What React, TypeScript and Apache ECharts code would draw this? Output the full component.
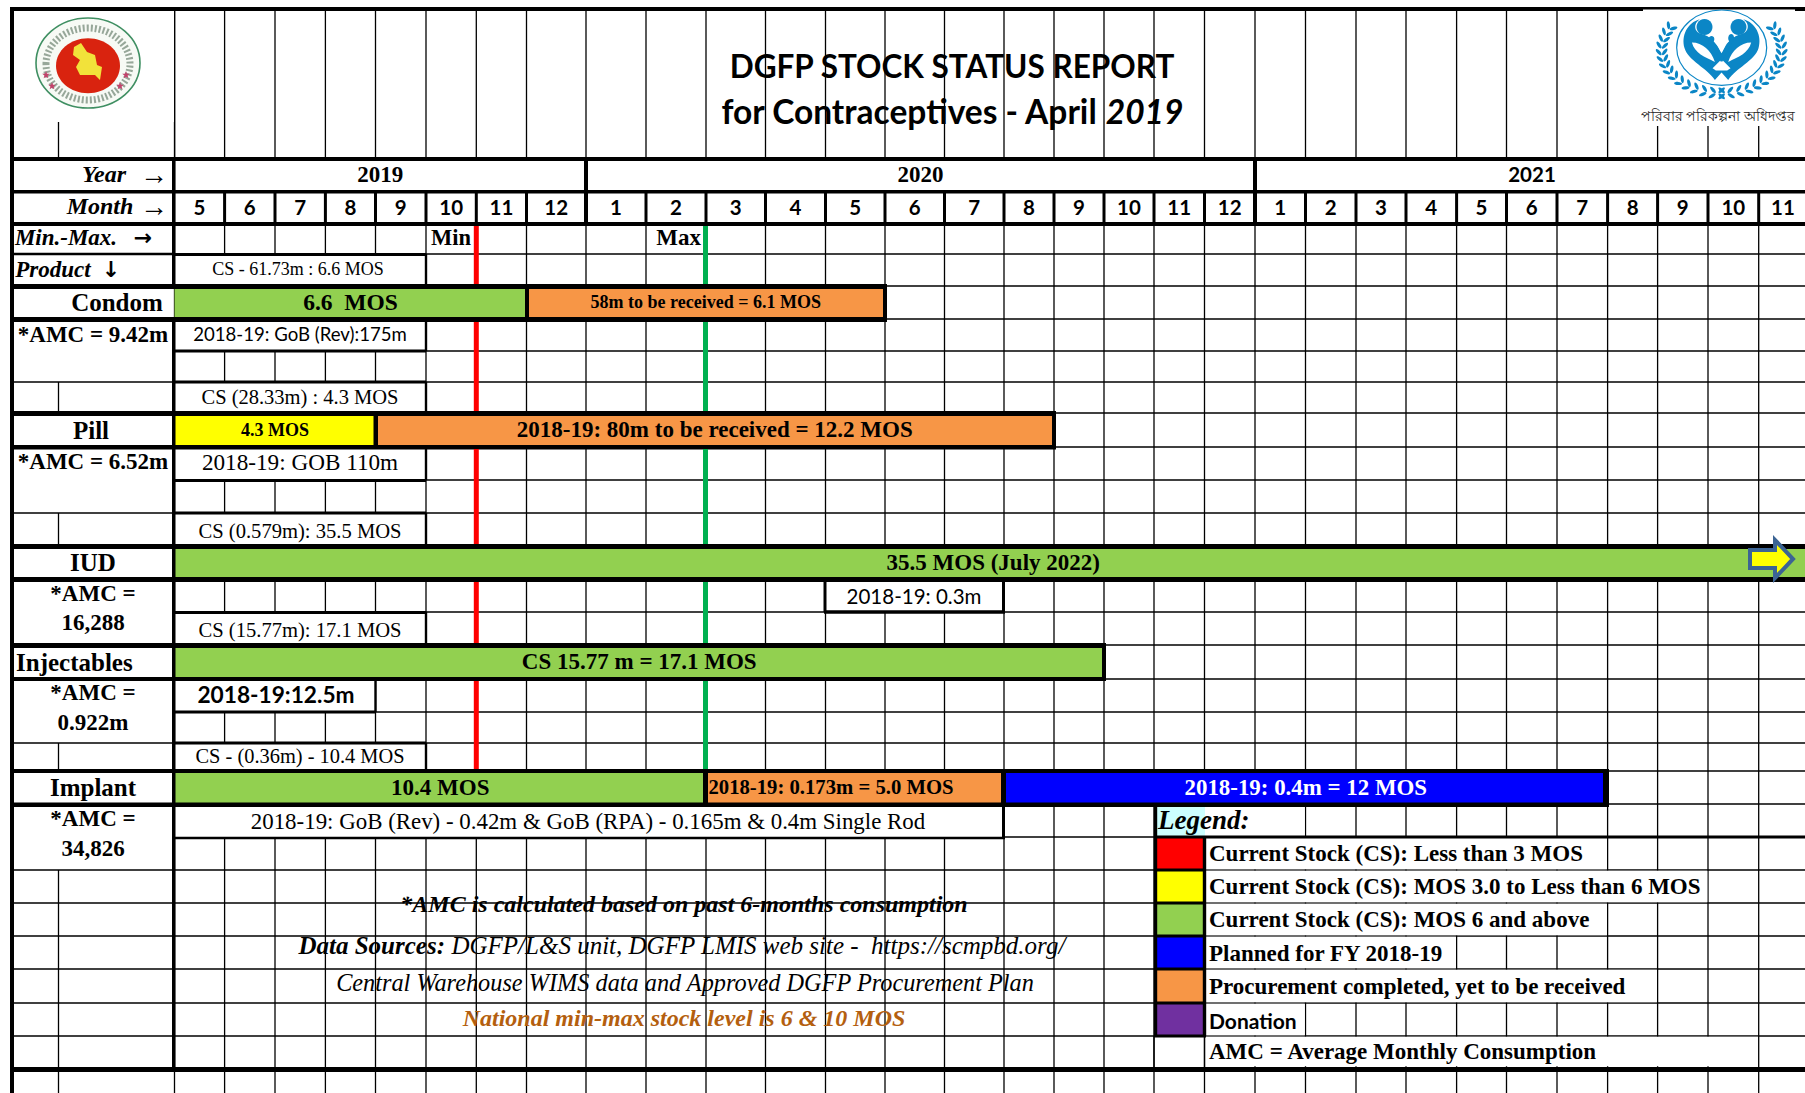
import React, { useEffect, useRef } from "react";
import * as echarts from "echarts";

// ---------- DATA ----------
const years = ["2019", "2020", "2021"];
const yearSpans = [[0, 8], [8, 20], [20, 31]];
const months = [5, 6, 7, 8, 9, 10, 11, 12, 1, 2, 3, 4, 5, 6, 7, 8, 9, 10, 11, 12, 1, 2, 3, 4, 5, 6, 7, 8, 9, 10, 11];
const minMonth = 6;
const maxMonth = 10;

const condomBars = [
  { from: 0, to: 7, kind: "green", label: "6.6  MOS" },
  { from: 7, to: 13, kind: "orange", label: "58m to be received = 6.1 MOS" },
];
const pillBars = [
  { from: 0, to: 4, kind: "yellow", label: "4.3 MOS" },
  { from: 4, to: 16, kind: "orange", label: "2018-19: 80m to be received = 12.2 MOS" },
];
const iudBars = [{ from: 0, to: 31, kind: "green", label: "35.5 MOS (July 2022)" }];
const injectableBars = [{ from: 0, to: 17, kind: "green", label: "CS 15.77 m = 17.1 MOS" }];
const implantBars = [
  { from: 0, to: 10, kind: "green", label: "10.4 MOS" },
  { from: 10, to: 15, kind: "orange", label: "2018-19: 0.173m = 5.0 MOS" },
  { from: 15, to: 27, kind: "blue", label: "2018-19: 0.4m = 12 MOS" },
];
const legendItems = [
  { kind: "red", label: "Current Stock (CS): Less than 3 MOS", toMonth: 27 },
  { kind: "yellow", label: "Current Stock (CS): MOS 3.0 to Less than 6 MOS", toMonth: 29 },
  { kind: "green", label: "Current Stock (CS): MOS 6 and above", toMonth: 27 },
  { kind: "blue", label: "Planned for FY 2018-19", toMonth: 24 },
  { kind: "orange", label: "Procurement completed, yet to be received", toMonth: 28 },
  { kind: "purple", label: "Donation", toMonth: 21 },
  { kind: "none", label: "AMC = Average Monthly Consumption", toMonth: 30 },
];

// ---------- LAYOUT ----------
const W = 1805;
const H = 1093;
const SERIF = '"Liberation Serif", "Times New Roman", serif';
const SANS = 'Lato, "Open Sans", sans-serif';
const DEJAVU = '"DejaVu Sans", sans-serif';
const colors: Record<string, string> = {
  green: "#92d050", orange: "#f79646", yellow: "#ffff00", blue: "#0000ff",
  red: "#ff0000", purple: "#7030a0", none: "#ffffff",
};
const edges = [174.5, 224.6, 275, 325.4, 375.5, 426, 476.3, 526.5, 586, 646, 706, 765.5, 825.5, 885, 944.5, 1004,
  1054, 1104, 1154, 1204.5, 1255, 1305.5, 1356, 1406, 1456.6, 1506.5, 1557, 1607.6, 1657.6, 1708, 1758.7, 1812];
const thinRows = [254, 286, 319, 351, 382, 413, 447, 480, 513, 546, 579, 612, 645, 679, 712, 743, 771, 804, 837,
  870, 903, 936, 969, 1003, 1036, 1069];
const E = (m: number) => edges[m];

type Rect = { x0: number; x1: number; y0: number; y1: number; fill: string };
const R = (x0: number, x1: number, y0: number, y1: number, fill = "#000"): Rect => ({ x0, x1, y0, y1, fill });
const WR = (x0: number, x1: number, y0: number, y1: number): Rect => R(x0, x1, y0, y1, "#ffffff");
const HL = (x0: number, x1: number, y: number, w = 1.3, c = "#000") => R(x0, x1, y - w / 2, y + w / 2, c);
const VL = (x: number, y0: number, y1: number, w = 1.3, c = "#000") => R(x - w / 2, x + w / 2, y0, y1, c);

// thin grid
const gridRects: Rect[] = [];
edges.slice(0, 31).forEach((x, i) => {
  gridRects.push(VL(x, i >= 28 ? 126 : 11, H));
});
thinRows.forEach((y) => gridRects.push(HL(14, W, y)));

// white-outs: merged cells
const legendTop = [837, 870, 903, 936, 969, 1003, 1036];
const legendBottom = [870, 903, 936, 969, 1003, 1036, 1067];
const whiteRects: Rect[] = [
  WR(14, 172, 322.5, 381), WR(14, 172, 449.5, 512), WR(14, 172, 582, 643), WR(14, 172, 681, 742), WR(14, 172, 807, 869),
  WR(14, 172, 226, 253), WR(14, 172, 255, 284),
  WR(176, W, 161, 190), WR(14, 172, 161, 190), WR(14, 172, 193, 222),
  WR(E(0), E(5), 254, 284), WR(E(0), E(5), 322, 351), WR(E(0), E(5), 382, 412), WR(E(0), E(5), 449, 480),
  WR(E(0), E(5), 513, 544), WR(824, 1004, 582, 612), WR(E(0), E(5), 612, 643), WR(E(0), E(4), 681, 712),
  WR(E(0), E(5), 743, 769), WR(E(0), E(15), 807, 837),
  WR(1205, E(21) - 0.7, 807, 836),
  ...legendItems.map((it, i) => WR(1206, E(it.toMonth) - 0.7, legendTop[i] + 0.7, legendBottom[i] - 0.7)),
];

// bars
const bandCondom: [number, number] = [289, 317];
const bandPill: [number, number] = [416, 445];
const bandIud: [number, number] = [549, 577];
const bandInj: [number, number] = [648, 677];
const bandImplant: [number, number] = [773, 803];
const barRows: [typeof condomBars, [number, number]][] = [
  [condomBars, bandCondom], [pillBars, bandPill], [iudBars, bandIud], [injectableBars, bandInj], [implantBars, bandImplant],
];
const barRects: Rect[] = [];
barRows.forEach(([bars, b]) =>
  bars.forEach((d) => barRects.push(R(E(d.from), Math.min(E(d.to), W), b[0], b[1], colors[d.kind])))
);
barRects.push(R(1156, 1205, 807, 836, "#ccffff"));
legendItems.forEach((it, i) => {
  if (it.kind === "none") return;
  barRects.push(R(1155, 1204, legendTop[i], legendBottom[i], colors[it.kind]));
});

// heavy lines
const heavyRects: Rect[] = [
  R(10, 14, 7, H), R(10, W, 7, 11),
  R(10, W, 157, 161), R(10, W, 190, 193.5), R(10, W, 222, 226),
  R(10, 887, 284, 289), R(10, 887, 317, 322),
  R(10, 1056, 411, 416), R(10, 1056, 445, 449.5),
  R(10, W, 544, 549), R(10, W, 577, 582),
  R(10, 1106, 643, 648), R(10, 1106, 677, 681),
  R(10, 1609, 769, 773), R(10, 1609, 802.5, 807),
  R(10, W, 1067, 1072),
  // first thick column
  R(172, 175.5, 157, 289), R(172, 175.5, 317, 1072),
  // year separators
  R(584, 588, 161, 222), R(1253, 1257, 161, 222),
  // boxes
  HL(14, 174, 254, 2.4), HL(E(0), E(5), 254.5, 3), VL(E(5), 254, 284, 2.4),
  HL(E(0), E(5), 351, 3), VL(E(5), 322, 351, 2.4), HL(E(0), E(5), 382, 3), VL(E(5), 382, 412, 2.4),
  HL(E(0), E(5), 480.5, 3), VL(E(5), 449, 480, 2.4), HL(E(0), E(5), 513, 3), VL(E(5), 513, 544, 2.4),
  HL(E(0), E(5), 612.5, 3), VL(E(5), 612, 643, 2.4),
  HL(824, 1005, 612, 3.4), VL(825, 582, 612, 3), VL(1003.5, 582, 612, 3),
  HL(E(0), E(4), 712, 3), VL(E(4), 681, 712, 2.4), HL(E(0), E(5), 743, 3), VL(E(5), 743, 769, 2.4),
  HL(E(0), 1005, 838, 2.6), VL(1003.5, 807, 838, 3),
  // bar dividers and ends
  R(525, 529, 289, 317), R(883, 887, 289, 317),
  R(373.5, 378, 416, 445), R(1052, 1056, 416, 445),
  R(1102, 1106, 648, 677),
  R(703, 708, 773, 803), R(1001, 1006, 773, 803), R(1603, 1609, 773, 803),
  // legend frame
  VL(1155.5, 807, 1036, 3.4), VL(1204.5, 837, 1036, 3.4),
  HL(1154, W, 837, 3),
  ...[870, 903, 936, 969, 1003].map((y) => HL(1154, 1206, y, 3)),
  HL(1154, 1206, 1036, 3),
  VL(1204.5, 1036, 1067, 1.3), VL(1154, 1036, 1067, 1.3),
];
months.forEach((_, i) => {
  if (i > 0 && ![8, 20].includes(i)) heavyRects.push(VL(E(i), 193, 222, 3));
});
// min/max marker bands
const minMaxBands = [[226, 284], [322, 411], [449, 544], [582, 643], [681, 769]];
minMaxBands.forEach(([a, b]) => {
  heavyRects.push(R(E(minMonth) - 2.5, E(minMonth) + 2.5, a, b, "#ff0000"));
  heavyRects.push(R(E(maxMonth) - 3, E(maxMonth) + 2, a, b, "#00b050"));
});
// short divider in the label column
[[122, 157], [382, 412], [513, 544], [743, 769], [870, 1067], [1072, H]].forEach(([a, b]) => heavyRects.push(VL(58.5, a, b)));

// texts
type T = {
  t: string; x: number; y: number; size: number; font?: string; weight?: string; style?: string;
  color?: string; align?: string; rich?: any;
};
const B = "bold";
const bl = (t: string, x: number, y: number, size: number, extra: Partial<T> = {}): T => ({ t, x, y, size, weight: B, ...extra });
const texts: T[] = [
  { t: "{a|DGFP STOCK STATUS REPORT}", x: 952, y: 66, size: 36, rich: { a: { font: `bold 31.5px ${SANS}`, fill: "#000" } } },
  {
    t: "{a|for Contraceptives - April }{b|2019}", x: 952, y: 111, size: 36,
    rich: { a: { font: `bold 33.5px ${SANS}`, fill: "#000" }, b: { font: `italic bold 33.5px ${SANS}`, fill: "#000" } },
  },
  bl("Year", 104, 174, 24, { style: "italic" }), { t: "→", x: 154, y: 174, size: 28 },
  bl("Month", 100, 206, 24, { style: "italic" }), { t: "→", x: 154, y: 206, size: 28 },
  bl("Min.-Max.", 66, 237, 23, { style: "italic" }), bl("→", 143, 237, 22, { font: DEJAVU }),
  bl("Product", 53, 269, 23, { style: "italic" }), bl("↓", 111, 269, 22, { font: DEJAVU }),
  bl("Min", 471, 237, 22.5, { align: "right" }), bl("Max", 701, 237, 23, { align: "right" }),
  bl("Condom", 117, 302, 25), bl("*AMC = 9.42m", 93, 334, 23),
  bl("Pill", 91, 430, 25), bl("*AMC = 6.52m", 93, 461, 23),
  bl("IUD", 93, 562, 25), bl("*AMC =", 93, 593, 23), bl("16,288", 93, 622, 23),
  bl("Injectables", 16, 662, 25, { align: "left" }), bl("*AMC =", 93, 692, 23), bl("0.922m", 93, 722, 23),
  bl("Implant", 93, 787, 25), bl("*AMC =", 93, 818, 23), bl("34,826", 93, 848, 23),
  { t: "CS - 61.73m : 6.6 MOS", x: 298, y: 269, size: 18 },
  { t: "2018-19: GoB (Rev):175m", x: 300, y: 334, size: 18.6, font: SANS },
  { t: "CS (28.33m) : 4.3 MOS", x: 300, y: 397, size: 20.5 },
  { t: "2018-19: GOB 110m", x: 300, y: 462, size: 23.2 },
  { t: "CS (0.579m): 35.5 MOS", x: 300, y: 531, size: 20.6 },
  { t: "2018-19: 0.3m", x: 914, y: 596, size: 20.5, font: SANS },
  { t: "CS (15.77m): 17.1 MOS", x: 300, y: 630, size: 20.6 },
  { t: "2018-19:12.5m", x: 276, y: 694, size: 22.7, font: SANS, weight: B },
  { t: "CS - (0.36m) - 10.4 MOS", x: 300, y: 756, size: 20.4 },
  { t: "2018-19: GoB (Rev) - 0.42m & GoB (RPA) - 0.165m & 0.4m Single Rod", x: 588, y: 821, size: 22.9 },
  // footnotes
  bl("*AMC is calculated based on past 6-months consumption", 684, 904, 24, { style: "italic" }),
  {
    t: "{a|Data Sources:}{b| DGFP/L&S unit, DGFP LMIS web site -  https://scmpbd.org/}", x: 682, y: 945, size: 25,
    rich: { a: { font: `italic bold 25px ${SERIF}`, fill: "#000" }, b: { font: `italic 25px ${SERIF}`, fill: "#000" } },
  },
  { t: "Central Warehouse WIMS data and Approved DGFP Procurement Plan", x: 685, y: 982, size: 24.3, style: "italic" },
  bl("National min-max stock level is 6 & 10 MOS", 684, 1018, 24, { style: "italic", color: "#b45f0f" }),
  // legend
  bl("Legend:", 1158, 820, 27, { style: "italic", align: "left" }),
  ...legendItems.map((it, i) =>
    it.kind === "purple"
      ? { t: it.label, x: 1209, y: 1020, size: 21, font: SANS, weight: B, align: "left" }
      : bl(it.label, 1209, [853, 886, 919, 953, 986, 1020, 1051][i], 23, { align: "left" })
  ),
  // years
  ...years.map((y, i) => {
    const x = (E(yearSpans[i][0]) + Math.min(E(yearSpans[i][1]), 1890)) / 2;
    return i === 2
      ? { t: y, x: 1532, y: 174, size: 20.5, font: SANS, weight: B }
      : bl(y, x, 174, 23);
  }),
  // months
  ...months.map((m, i) => ({
    t: String(m), x: i === 30 ? 1783 : (E(i) + E(i + 1)) / 2, y: 207, size: 20.5, font: SANS, weight: B,
  })),
];
// bar labels placed from the bars' own span
const barLabelStyle: Record<string, { size: number; dx?: number; color?: string }> = {
  "6.6  MOS": { size: 23.5 },
  "58m to be received = 6.1 MOS": { size: 18 },
  "4.3 MOS": { size: 18 },
  "2018-19: 80m to be received = 12.2 MOS": { size: 23 },
  "35.5 MOS (July 2022)": { size: 23 },
  "CS 15.77 m = 17.1 MOS": { size: 23 },
  "10.4 MOS": { size: 23 },
  "2018-19: 0.173m = 5.0 MOS": { size: 20.7, dx: -24 },
  "2018-19: 0.4m = 12 MOS": { size: 22.9, color: "#fff" },
};
barRows.forEach(([bars, b]) =>
  bars.forEach((d) => {
    const s = barLabelStyle[d.label];
    const x = (E(d.from) + E(d.to)) / 2 + (s.dx || 0);
    texts.push(bl(d.label, x, (b[0] + b[1]) / 2 - 1, s.size, { color: s.color }));
  })
);

function rectSeries(items: Rect[], z: number) {
  return {
    type: "custom", coordinateSystem: "cartesian2d", silent: true, clip: false, z,
    data: items.map((d) => [d.x0, d.y0, d.x1, d.y1]),
    encode: { x: [0, 2], y: [1, 3] },
    renderItem: (params: any, api: any) => {
      const p0 = api.coord([api.value(0), api.value(1)]);
      const p1 = api.coord([api.value(2), api.value(3)]);
      return {
        type: "rect",
        shape: { x: p0[0], y: p0[1], width: p1[0] - p0[0], height: p1[1] - p0[1] },
        style: { fill: items[params.dataIndex].fill, stroke: null },
      };
    },
  };
}
function textSeries(items: T[], z: number) {
  return {
    type: "custom", coordinateSystem: "cartesian2d", silent: true, clip: false, z,
    data: items.map((d) => [d.x, d.y]),
    encode: { x: 0, y: 1 },
    renderItem: (params: any, api: any) => {
      const d = items[params.dataIndex];
      const p = api.coord([api.value(0), api.value(1)]);
      const font = `${d.style || "normal"} ${d.weight || "normal"} ${d.size}px ${d.font || SERIF}`;
      return {
        type: "text",
        x: p[0], y: p[1],
        style: {
          text: d.t, x: 0, y: 0, font, fill: d.color || "#000",
          align: d.align || "center", verticalAlign: "middle",
          ...(d.rich ? { rich: d.rich } : {}),
        },
      };
    },
  };
}

// ---------- DECORATION (logos, arrow) ----------
const FAMILY_BLUE = "#0b86c6";
echarts.graphic.registerShape("fpBody", echarts.graphic.extendPath(
  "M300 58 C262 68 243 108 254 145 C265 182 322 205 345 240 L365 218 L385 240 C408 205 465 182 476 145 C487 108 468 68 430 58 C452 72 446 98 425 102 C398 108 385 125 365 160 C345 125 332 108 305 102 C284 98 278 72 300 58 Z", {}));
echarts.graphic.registerShape("fpLeftMoon", echarts.graphic.extendPath(
  "M276 128 C284 160 315 172 345 186 C334 152 308 128 276 128 Z", {}));
echarts.graphic.registerShape("fpRightMoon", echarts.graphic.extendPath(
  "M454 128 C446 160 415 172 385 186 C396 152 422 128 454 128 Z", {}));
echarts.graphic.registerShape("fpHouse", echarts.graphic.extendPath(
  "M365 178 L392 205 L382 212 L348 212 L338 205 Z", {}));
echarts.graphic.registerShape("fpKids", echarts.graphic.extendPath(
  "M335 108 C344 108 346 120 340 126 C352 132 360 150 365 170 C370 150 378 132 388 124 C382 116 386 102 394 102 C402 102 406 116 400 124 C388 140 375 165 368 185 L362 185 C355 165 340 145 326 128 C322 120 326 108 335 108 Z", {}));

function leaves() {
  const out: any[] = [];
  const cx = 365, cy = 150, rx = 180, ry = 130;
  const steps = 14;
  [-1, 1].forEach((side) => {
    for (let i = 0; i <= steps; i++) {
      const a = Math.PI * (i / steps) * 0.68 - Math.PI * 0.18;
      const px = cx + side * rx * Math.cos(a);
      const py = cy + ry * Math.sin(a);
      const nx = side * Math.cos(a);
      const ny = Math.sin(a);
      [-1, 1].forEach((f) => {
        out.push({
          type: "ellipse", z: 100, silent: true,
          x: 1600 + px / 3 + f * 3 * nx, y: py / 3 + f * 3 * ny,
          rotation: -side * (a + f * 0.7),
          shape: { cx: 0, cy: 0, rx: 1.6, ry: 4 },
          style: { fill: FAMILY_BLUE },
        });
      });
    }
  });
  return out;
}
function star(cx: number, cy: number, r: number) {
  const pts: number[][] = [];
  for (let i = 0; i < 10; i++) {
    const a = -Math.PI / 2 + (i * Math.PI) / 5;
    const q = i % 2 ? r * 0.42 : r;
    pts.push([cx + q * Math.cos(a), cy + q * Math.sin(a)]);
  }
  return { type: "polygon", z: 102, silent: true, shape: { points: pts }, style: { fill: "#c2426b" } };
}
const fpOwn = { x: 1600, y: 0, scaleX: 1 / 3, scaleY: 1 / 3, z: 101, silent: true };
const graphicElements: any[] = [
  // logo backgrounds
  { type: "rect", z: 99, silent: true, shape: { x: 14, y: 11, width: 160, height: 111 }, style: { fill: "#fff" } },
  { type: "rect", z: 99, silent: true, shape: { x: 1643, y: 9.5, width: 152, height: 116.5 }, style: { fill: "#fff" } },
  { type: "rect", z: 100, silent: true, shape: { x: 174, y: 11, width: 1.3, height: 146 }, style: { fill: "#000" } },
  // government seal
  { type: "ellipse", z: 100, silent: true, shape: { cx: 88, cy: 63, rx: 52, ry: 45 }, style: { fill: "#f7faf5", stroke: "#3f8f62", lineWidth: 1.6 } },
  { type: "ellipse", z: 100, silent: true, shape: { cx: 88, cy: 64, rx: 42, ry: 36 }, style: { fill: "none", stroke: "#56705c", lineWidth: 7, lineDash: [2, 2], opacity: 0.6 } },
  { type: "ellipse", z: 101, silent: true, shape: { cx: 88, cy: 65.7, rx: 32, ry: 27.5 }, style: { fill: "#d9230f" } },
  {
    type: "polygon", z: 102, silent: true,
    shape: { points: [[74, 47], [81, 43], [87, 52], [95, 55], [97, 65], [102, 67], [100, 80], [95, 75], [88, 75], [80, 75], [76, 67], [80, 60], [73, 55]] },
    style: { fill: "#f2e23a" },
  },
  star(46, 75, 4), star(52, 86, 4), star(126, 75, 4), star(120, 86, 4),
  // family planning logo
  { type: "ellipse", z: 101, silent: true, shape: { cx: 1721.7, cy: 47.7, rx: 45, ry: 37.7 }, style: { fill: "#fff", stroke: FAMILY_BLUE, lineWidth: 1.2 } },
  { type: "fpBody", ...fpOwn, z: 102, style: { fill: FAMILY_BLUE } },
  { type: "circle", z: 102, silent: true, shape: { cx: 1704.5, cy: 27, r: 8 }, style: { fill: FAMILY_BLUE } },
  { type: "circle", z: 102, silent: true, shape: { cx: 1738.5, cy: 27, r: 8 }, style: { fill: FAMILY_BLUE } },
  { type: "fpLeftMoon", ...fpOwn, z: 103, style: { fill: "#fff" } },
  { type: "fpRightMoon", ...fpOwn, z: 103, style: { fill: "#fff" } },
  { type: "fpHouse", ...fpOwn, z: 103, style: { fill: "#fff" } },
  { type: "fpKids", ...fpOwn, z: 103, style: { fill: FAMILY_BLUE } },
  ...leaves(),
  {
    type: "text", z: 101, silent: true, x: 1718, y: 116,
    style: { text: "পরিবার পরিকল্পনা অধিদপ্তর", font: `13.5px "Noto Sans", sans-serif`, fill: "#222", align: "center", verticalAlign: "middle" },
  },
  // continuation arrow on the IUD bar
  {
    type: "polygon", z: 100, silent: true,
    shape: { points: [[1750, 550], [1775, 550], [1775, 540], [1793, 559], [1775, 578], [1775, 568], [1750, 568]] },
    style: { fill: "#ffff00", stroke: "#3c6494", lineWidth: 4 },
  },
];

export default function App() {
  const ref = useRef<HTMLDivElement>(null);
  useEffect(() => {
    const chart = echarts.init(ref.current!, undefined, { renderer: "svg" });
    chart.setOption({
      animation: false,
      backgroundColor: "#ffffff",
      grid: { left: 0, right: 0, top: 0, bottom: 0 },
      xAxis: { type: "value", min: 0, max: W, show: false },
      yAxis: { type: "value", min: 0, max: H, inverse: true, show: false },
      graphic: graphicElements,
      series: [
        rectSeries(gridRects, 1),
        rectSeries(whiteRects, 2),
        rectSeries(barRects, 3),
        rectSeries(heavyRects, 4),
        textSeries(texts, 5),
      ],
    });
    return () => chart.dispose();
  }, []);
  return <div ref={ref} style={{ position: "fixed", left: 0, top: 0, width: W, height: H }} />;
}
